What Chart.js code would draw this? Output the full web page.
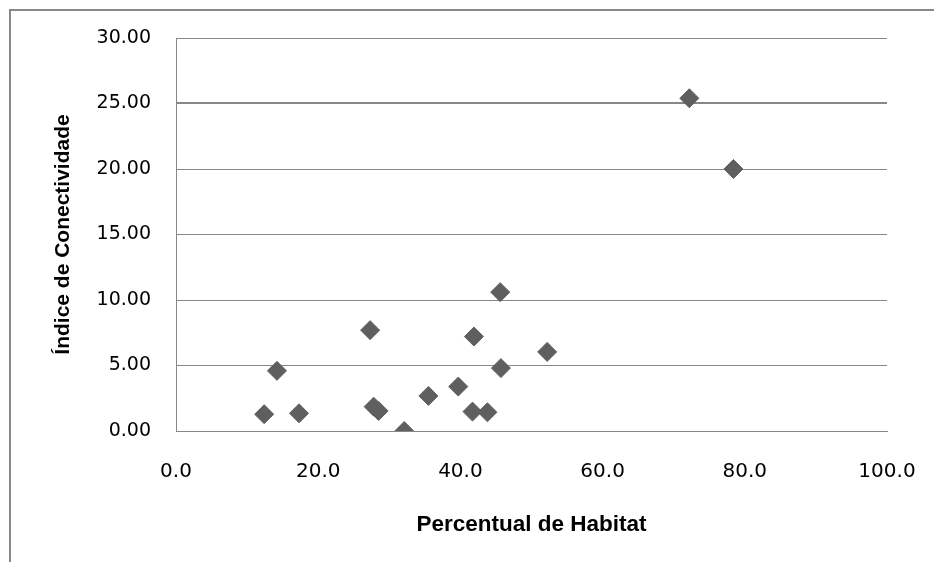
<!DOCTYPE html>
<html lang="pt">
<head>
  <meta charset="UTF-8" />
  <title>Índice de Conectividade x Percentual de Habitat</title>
  <script src="https://cdn.jsdelivr.net/npm/chart.js"></script>
  <style>
    body {
      margin: 0;
      background: #fff;
    }
    canvas {
      display: block;
    }
  </style>
</head>
<body>
  <canvas id="scatterChart" width="934" height="562"></canvas>

  <script>
    // Percentual de Habitat (x) e Índice de Conectividade (y)
    const habitat = [12.4, 14.2, 17.3, 27.3, 27.8, 28.5, 32.1, 35.5, 39.7, 41.9, 41.7, 43.8, 45.7, 45.6, 52.2, 72.2, 78.4];
    const conectividade = [1.28, 4.59, 1.35, 7.70, 1.86, 1.53, 0.00, 2.68, 3.39, 7.21, 1.48, 1.43, 4.80, 10.60, 6.04, 25.40, 20.00];

    const xTicks = [0, 20, 40, 60, 80, 100];
    const yTicks = [0, 5, 10, 15, 20, 25, 30];

    const points = habitat.map((x, i) => ({ x: x, y: conectividade[i] }));

    const gridGray = '#878787';

    // outer frame (only the top and left edges are visible in the picture)
    const framePlugin = {
      id: 'frame',
      beforeDraw(chart) {
        const ctx = chart.ctx;
        ctx.save();
        ctx.fillStyle = '#fff';
        ctx.fillRect(0, 0, chart.width, chart.height);
        ctx.strokeStyle = '#888';
        ctx.lineWidth = 2;
        ctx.beginPath();
        ctx.moveTo(10, chart.height);
        ctx.lineTo(10, 10);
        ctx.lineTo(chart.width, 10);
        ctx.stroke();
        ctx.restore();
      }
    };

    new Chart(document.getElementById('scatterChart'), {
      type: 'scatter',
      data: {
        datasets: [{
          label: 'Índice de Conectividade',
          data: points,
          pointStyle: 'rectRot',
          pointRadius: 9.5,
          pointHoverRadius: 9.5,
          backgroundColor: '#5f5f5f',
          borderColor: '#5f5f5f',
          borderWidth: 1
        }]
      },
      options: {
        responsive: false,
        animation: false,
        layout: {
          padding: { top: 38, right: 47, bottom: 0, left: 0 }
        },
        plugins: {
          legend: { display: false },
          tooltip: { enabled: false }
        },
        scales: {
          x: {
            type: 'linear',
            min: 0,
            max: 100,
            afterBuildTicks: (scale) => {
              scale.ticks = xTicks.map(v => ({ value: v }));
            },
            afterFit: (scale) => {
              scale.height = 131;
              // label overflow is already covered by the layout padding
              scale.paddingLeft = 0;
              scale.paddingRight = 0;
            },
            grid: { display: false, drawTicks: false },
            border: { display: true, color: gridGray, width: 1 },
            ticks: {
              padding: 29,
              color: '#000',
              font: { family: 'DejaVu Sans', size: 20 },
              callback: (v) => Number(v).toFixed(1)
            },
            title: {
              display: true,
              text: 'Percentual de Habitat',
              color: '#000',
              font: { family: 'Liberation Sans', size: 22.5, weight: 'bold' },
              padding: { top: 0, bottom: 24 }
            }
          },
          y: {
            type: 'linear',
            min: 0,
            max: 30,
            afterBuildTicks: (scale) => {
              scale.ticks = yTicks.map(v => ({ value: v }));
            },
            afterFit: (scale) => { scale.width = 176; },
            grid: {
              color: gridGray,
              lineWidth: (ctx) => (ctx.tick && ctx.tick.value === 25 ? 2 : 1),
              drawTicks: false
            },
            border: { display: true, color: gridGray, width: 1 },
            ticks: {
              padding: 25,
              color: '#000',
              font: { family: 'DejaVu Sans', size: 19 },
              callback: (v) => Number(v).toFixed(2)
            },
            title: {
              display: true,
              text: 'Índice de Conectividade',
              color: '#000',
              font: { family: 'Liberation Sans', size: 21, weight: 'bold' },
              padding: { top: 51, bottom: 0 }
            }
          }
        }
      },
      plugins: [framePlugin]
    });
  </script>
</body>
</html>
